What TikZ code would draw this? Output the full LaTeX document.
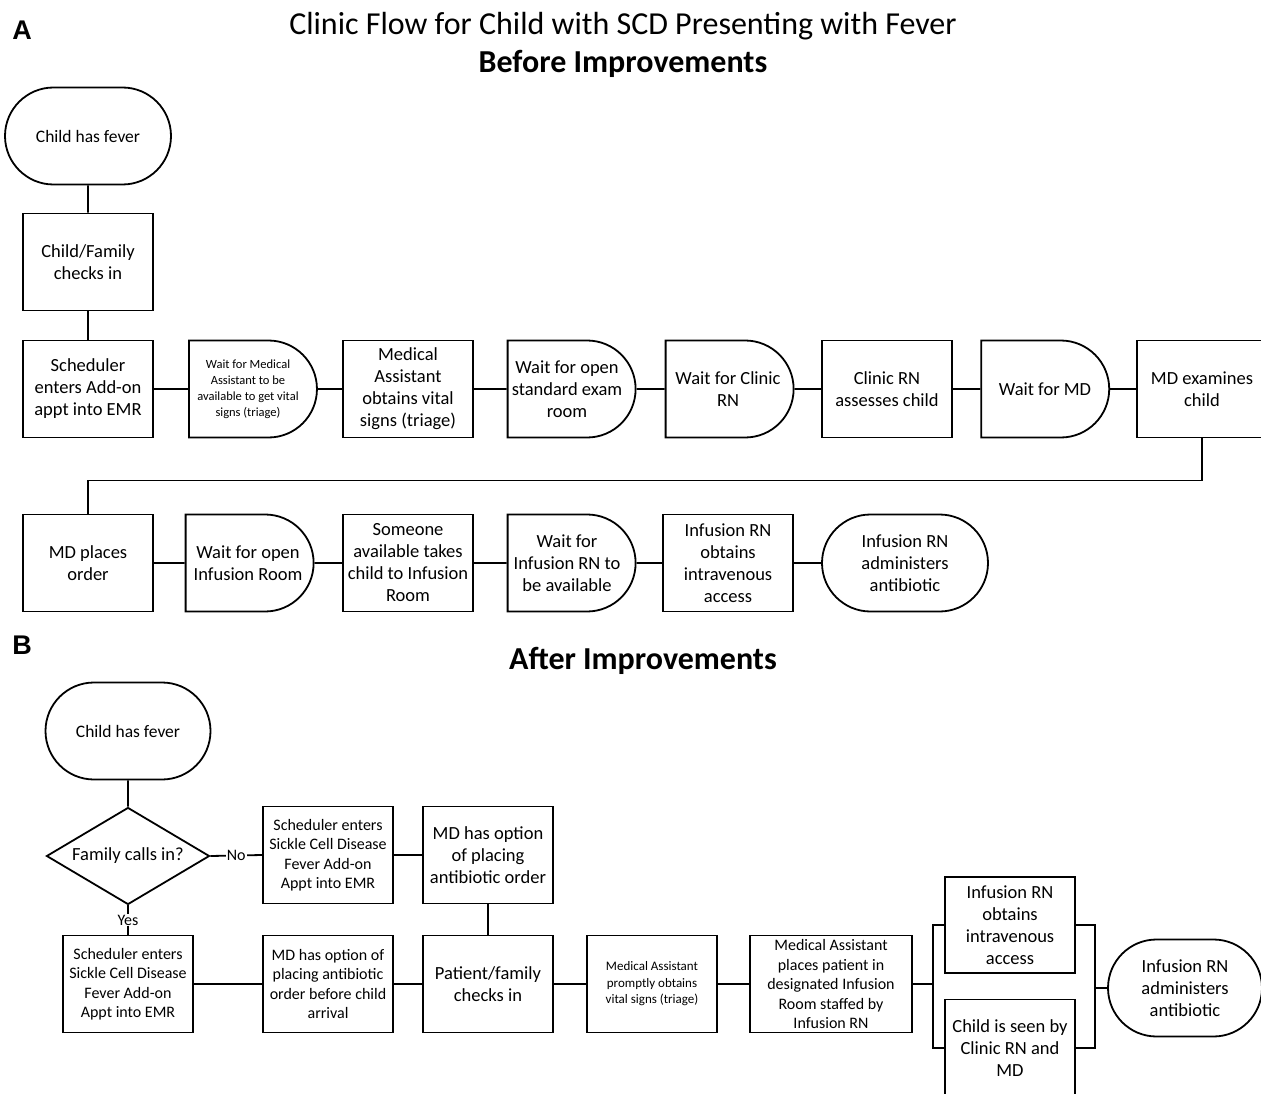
\documentclass[tikz,border=0pt]{standalone}
\usepackage{fontspec}
\setmainfont{Carlito}
\newfontfamily\panelfont{Liberation Sans}
\usetikzlibrary{shapes.misc, shapes.geometric}

\def\lw{1.8pt}
\newcommand\bigtxt{\fontsize{18.5}{22}\selectfont}
\newcommand\midtxt{\fontsize{16}{19.5}\selectfont}
\newcommand\tinytxt{\fontsize{12.5}{16}\selectfont}

\tikzset{
    flow/.style = {draw, line width=\lw, align=center, inner sep=1pt, minimum height=97pt, font=\bigtxt},
    stepbox/.style = {flow, rectangle, minimum width=130pt},
    waitbox/.style = {flow, rounded rectangle, rounded rectangle west arc=none, minimum width=130pt},
    endbox/.style = {flow, rounded rectangle, minimum width=168pt},
    askbox/.style = {flow, diamond, aspect=1.7, minimum width=163pt},
    link/.style = {line width=\lw},
    heading/.style = {inner sep=0pt, font=\fontsize{32}{36}\selectfont},
    subheading/.style = {heading, font=\bfseries\fontsize{32}{36}\selectfont},
    panel/.style = {inner sep=0pt, font=\panelfont\bfseries\fontsize{27}{30}\selectfont}
}

\begin{document}
\begin{tikzpicture}[x=1pt, y=-1pt]
    \useasboundingbox (0,0) rectangle (1261,1094);
    \clip (0,0) rectangle (1261,1094);

    % headings
    \node[panel] (labA) at (22,30) {A};
    \node[heading] (title) at (623,26) {Clinic Flow for Child with SCD Presenting with Fever};
    \node[subheading] (before) at (623,64) {Before Improvements};
    \node[panel] (labB) at (22,645) {B};
    \node[subheading] (after) at (643,661) {After Improvements};

    % A: before improvements
    \node[endbox, font=\fontsize{17.5}{21}\selectfont] (feverA) at (88,136) {Child has fever};
    \node[stepbox] (checkA) at (88,262) {Child/Family\\checks in};

    \node[stepbox] (schedA) at (88,389) {Scheduler\\enters Add-on\\appt into EMR};
    \node[waitbox, font=\tinytxt] (waitMA) at (248,389) {Wait for Medical\\Assistant to be\\available to get vital\\signs (triage)};
    \node[stepbox] (vitalsA) at (408,389) {Medical\\Assistant\\obtains vital\\signs (triage)};
    \node[waitbox] (waitRoom) at (567,389) {Wait for open\\standard exam\\room};
    \node[waitbox] (waitRN) at (728,389) {Wait for Clinic\\RN};
    \node[stepbox] (assessRN) at (887,389) {Clinic RN\\assesses child};
    \node[waitbox] (waitMD) at (1045,389) {Wait for MD};
    \node[stepbox] (examMD) at (1202,389) {MD examines\\child};

    \node[stepbox] (orderMD) at (88,563) {MD places\\order};
    \node[waitbox] (waitInf) at (248,563) {Wait for open\\Infusion Room};
    \node[stepbox] (takeInf) at (408,563) {Someone\\available takes\\child to Infusion\\Room};
    \node[waitbox] (waitIRN) at (567,563) {Wait for\\Infusion RN to\\be available};
    \node[stepbox] (ivA) at (728,563) {Infusion RN\\obtains\\intravenous\\access};
    \node[endbox] (giveA) at (905,563) {Infusion RN\\administers\\antibiotic};

    \draw[link] (feverA) -- (checkA);
    \draw[link] (checkA) -- (schedA);
    \draw[link] (schedA) -- (waitMA) -- (vitalsA) -- (waitRoom) -- (waitRN) -- (assessRN) -- (waitMD) -- (examMD);
    \draw[link] (examMD.south) -- ++(0,42) -| (orderMD.north);
    \draw[link] (orderMD) -- (waitInf) -- (takeInf) -- (waitIRN) -- (ivA) -- (giveA);

    % B: after improvements
    \node[endbox, font=\fontsize{17.5}{21}\selectfont, minimum width=167pt] (feverB) at (128,731) {Child has fever};
    \node[askbox] (calls) at (128,856) {Family calls in?};
    \node[stepbox, font=\midtxt] (schedNo) at (328,855) {Scheduler enters\\Sickle Cell Disease\\Fever Add-on\\Appt into EMR};
    \node[stepbox] (optionNo) at (488,855) {MD has option\\of placing\\antibiotic order};

    \node[stepbox, font=\midtxt] (schedYes) at (128,984) {Scheduler enters\\Sickle Cell Disease\\Fever Add-on\\Appt into EMR};
    \node[stepbox, font=\midtxt] (optionYes) at (328,984) {MD has option of\\placing antibiotic\\order before child\\arrival};
    \node[stepbox] (checkB) at (488,984) {Patient/family\\checks in};
    \node[stepbox, font=\fontsize{13}{16.5}\selectfont] (vitalsB) at (652,984) {Medical Assistant\\promptly obtains\\vital signs (triage)};
    \node[stepbox, font=\midtxt, minimum width=162pt] (placeB) at (831,984) {Medical Assistant\\places patient in\\designated Infusion\\Room staffed by\\Infusion RN};
    \node[stepbox, minimum height=96pt] (ivB) at (1010,925) {Infusion RN\\obtains\\intravenous\\access};
    \node[stepbox] (seenB) at (1010,1048) {Child is seen by\\Clinic RN and\\MD};
    \node[endbox, minimum width=156pt] (giveB) at (1185,988) {Infusion RN\\administers\\antibiotic};

    \draw[link] (feverB) -- (calls);
    \draw[link] (calls.east) -- node[fill=white, inner sep=1pt, font=\midtxt] {No} (schedNo.west);
    \draw[link] (schedNo) -- (optionNo);
    \draw[link] (optionNo) -- (checkB);
    \draw[link] (calls.south) -- node[fill=white, inner sep=1pt, font=\midtxt] {Yes} (schedYes.north);
    \draw[link] (schedYes) -- (optionYes) -- (checkB) -- (vitalsB) -- (placeB);

    \coordinate (splitL) at ([xshift=20pt]placeB.east);
    \coordinate (splitR) at ([xshift=19pt]ivB.east);
    \draw[link] (placeB.east) -- (splitL);
    \draw[link] (ivB.west) -| (splitL) |- (seenB.west);
    \draw[link] (ivB.east) -- (splitR) |- (seenB.east);
    \draw[link] (splitR |- giveB.west) -- (giveB.west);
\end{tikzpicture}
\end{document}
